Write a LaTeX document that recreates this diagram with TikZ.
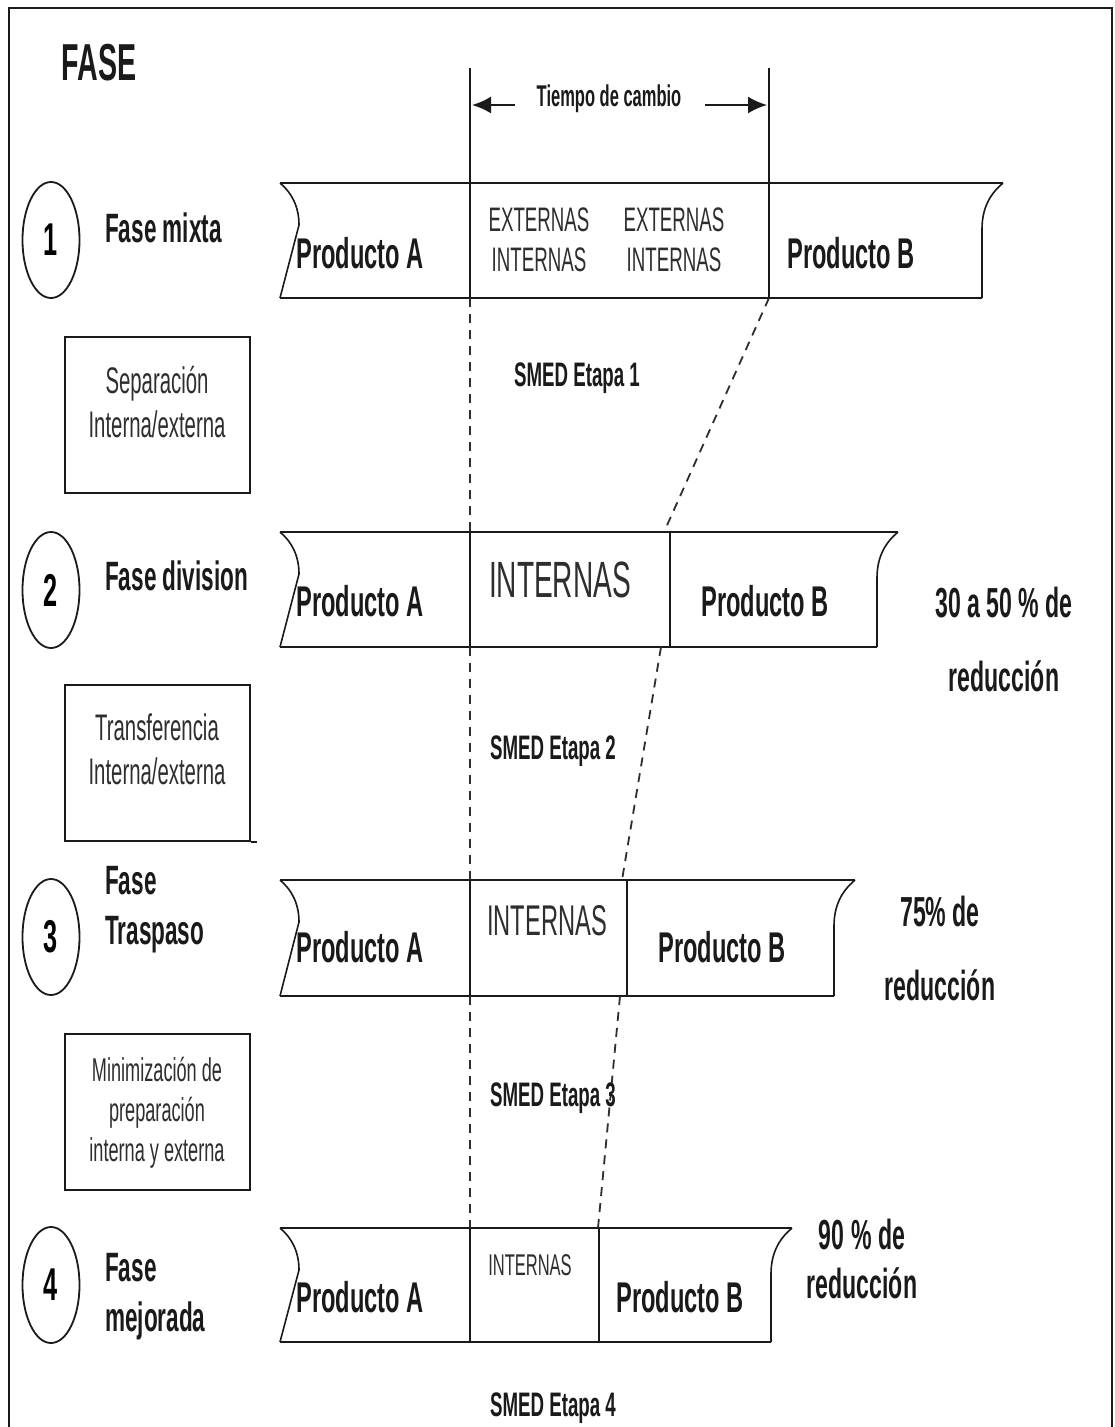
\documentclass[tikz,border=0pt]{standalone}
\usepackage{fontspec}
\setmainfont{Liberation Sans}[FakeStretch=0.55]
\usetikzlibrary{arrows.meta,shapes.geometric}

\definecolor{ink}{HTML}{1A1A1A}
\definecolor{soft}{HTML}{2E2E2E}

% outline of one production band: top y, bottom y, right x
\newcommand\bandshape[3]{%
  \draw[bandline] (280,#1) .. controls (292,#1+10) and (299,#1+24) .. (299,#1+42) -- (280,#2);
  \draw[bandline] (#3+21,#1) .. controls (#3+9,#1+10) and (#3,#1+24) .. (#3,#1+46) -- (#3,#2);
  \draw[bandedge] (280,#1) -- (#3+21,#1);
  \draw[bandedge] (280,#2) -- (#3,#2);
}

\begin{document}
\begin{tikzpicture}[x=1pt,y=-1pt,
  bandline/.style={draw=ink, line width=1.6pt},
  bandedge/.style={draw=ink, line width=2.6pt},
  divider/.style={draw=ink, line width=1.6pt},
  guide/.style={draw=soft, line width=1.8pt, dash pattern=on 9pt off 7pt},
  frame/.style={draw=ink, line width=1.6pt},
  ring/.style={draw=ink, line width=1.8pt, ellipse, minimum width=57pt, minimum height=116pt, inner sep=0pt,
               font=\bfseries\fontsize{46}{50}\selectfont},
  stepbox/.style={draw=ink, line width=2.4pt, minimum width=185pt, minimum height=156pt, inner sep=0pt},
  txt/.style={inner sep=0pt, text=ink},
  heading/.style={txt, font=\bfseries\fontsize{52}{58}\selectfont},
  phase/.style={txt, anchor=west, font=\bfseries\fontsize{41}{50}\selectfont, align=left},
  prod/.style={txt, font=\bfseries\fontsize{43}{49}\selectfont},
  mixed/.style={txt, text=soft, font=\fontsize{34}{40}\selectfont, align=center},
  boxtxt/.style={txt, text=soft, font=\fontsize{37}{44}\selectfont, align=center},
  stage/.style={txt, font=\bfseries\fontsize{34}{38}\selectfont},
  gain/.style={txt, font=\bfseries\fontsize{42}{74}\selectfont, align=center},
  arr/.style={draw=ink, line width=2.2pt, -{Latex[length=19pt,width=17pt]}}
]
\useasboundingbox (0,0) rectangle (1115,1427);
\fill[white] (0,0) rectangle (1115,1427);

% page frame
\draw[frame] (9,1430) -- (9,8) -- (1112,8) -- (1112,1430);

% heading
\node[heading] (fase) at (99,63) {FASE};

% change-over span markers
\coordinate (sa) at (470,68);
\coordinate (sb) at (769,68);
\coordinate (la) at (515,105);
\coordinate (lb) at (472,105);
\coordinate (ra) at (705,105);
\coordinate (rb) at (767,105);
\draw[divider] (sa) -- (470,298);
\draw[divider] (sb) -- (769,298);
\draw[arr] (la) -- (lb);
\draw[arr] (ra) -- (rb);
\node[txt, font=\bfseries\fontsize{30}{34}\selectfont] (tc) at (609,99) {Tiempo de cambio};

% bands
\bandshape{183}{298}{982}
\bandshape{532}{647}{877}
\bandshape{880}{996}{834}
\bandshape{1228}{1342}{771}

% band dividers
\coordinate (a1t) at (470,183); \coordinate (a1b) at (470,298);
\coordinate (b1t) at (769,183); \coordinate (b1b) at (769,298);
\coordinate (a2t) at (470,532); \coordinate (a2b) at (470,647);
\coordinate (b2t) at (670,532); \coordinate (b2b) at (670,647);
\coordinate (a3t) at (470,880); \coordinate (a3b) at (470,996);
\coordinate (b3t) at (627,880); \coordinate (b3b) at (627,996);
\coordinate (a4t) at (470,1228); \coordinate (a4b) at (470,1342);
\coordinate (b4t) at (599,1228); \coordinate (b4b) at (599,1342);
\draw[divider] (a2t) -- (a2b);
\draw[divider] (b2t) -- (b2b);
\draw[divider] (a3t) -- (a3b);
\draw[divider] (b3t) -- (b3b);
\draw[divider] (a4t) -- (a4b);
\draw[divider] (b4t) -- (b4b);

% guide lines between stages
\coordinate (g2) at (664,532);
\coordinate (g2b) at (661,647);
\coordinate (g3) at (622,880);
\coordinate (g3b) at (620,996);
\coordinate (g4) at (598,1228);
\draw[guide] (a1b) -- (a2t);
\draw[guide] (a2b) -- (a3t);
\draw[guide] (a3b) -- (a4t);
\draw[guide] (b1b) -- (g2);
\draw[guide] (g2b) -- (g3);
\draw[guide] (g3b) -- (g4);

% phase rings and names
\node[ring] (c1) at (51,240) {1};
\node[ring] (c2) at (51,590) {2};
\node[ring] (c3) at (51,937) {3};
\node[ring] (c4) at (51,1285) {4};
\node[phase] (p1) at (105,228) {Fase mixta};
\node[phase] (p2) at (105,576) {Fase division};
\node[phase] (p3) at (105,910) {Fase\\Traspaso};
\node[phase] (p4) at (105,1297) {Fase\\mejorada};

% technique boxes
\node[stepbox] (k1) at (157.5,415) {};
\node[stepbox] (k2) at (157.5,763) {};
\node[stepbox] (k3) at (157.5,1112) {};
\draw[draw=ink, line width=2.4pt] (k2.south east) -- ++(6,0);
\node[boxtxt] (t1) at (157,402) {Separación\\Interna/externa};
\node[boxtxt] (t2) at (157,749) {Transferencia\\Interna/externa};
\node[boxtxt, font=\fontsize{33}{40}\selectfont] (t3) at (157,1113) {Minimización de\\preparación\\interna y externa};

% band contents
\node[prod] (pa1) at (360,253) {Producto A};
\node[prod] (pa2) at (360,601) {Producto A};
\node[prod] (pa3) at (360,947) {Producto A};
\node[prod] (pa4) at (360,1297) {Producto A};
\node[prod] (pb1) at (851,253) {Producto B};
\node[prod] (pb2) at (765,601) {Producto B};
\node[prod] (pb3) at (722,947) {Producto B};
\node[prod] (pb4) at (680,1297) {Producto B};
\node[mixed] (m1) at (539,240) {EXTERNAS\\INTERNAS};
\node[mixed] (m2) at (674,240) {EXTERNAS\\INTERNAS};
\node[txt, text=soft, font=\fontsize{51}{56}\selectfont] (i2) at (560,580) {INTERNAS};
\node[txt, text=soft, font=\fontsize{43}{48}\selectfont] (i3) at (547,921) {INTERNAS};
\node[txt, text=soft, font=\fontsize{30}{34}\selectfont] (i4) at (530,1265) {INTERNAS};

% stage labels
\node[stage] (s1) at (577,378) {SMED Etapa 1};
\node[stage] (s2) at (553,751) {SMED Etapa 2};
\node[stage] (s3) at (553,1098) {SMED Etapa 3};
\node[stage] (s4) at (553,1408) {SMED Etapa 4};

% reduction figures
\node[gain] (r2) at (1004,639) {30 a 50 \% de\\reducción};
\node[gain] (r3) at (940,948) {75\% de\\reducción};
\node[gain, font=\bfseries\fontsize{42}{49}\selectfont] (r4) at (862,1259) {90 \% de\\reducción};
\end{tikzpicture}
\end{document}
